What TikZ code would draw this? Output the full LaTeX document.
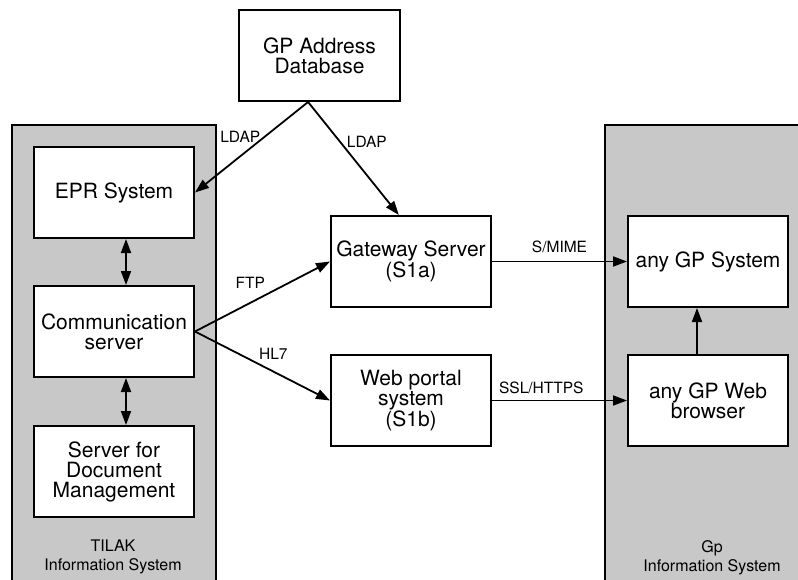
\documentclass[tikz,border=0pt]{standalone}
\usepackage{fontspec}
\setmainfont{TeX Gyre Heros}
\usetikzlibrary{
  arrows.meta,
  positioning,
  calc
}
\definecolor{PanelGray}{RGB}{200,200,200}
\tikzset{
  sysbox/.style={
    draw=black,
    fill=white,
    line width=2pt,
    minimum width=160pt,
    minimum height=91pt,
    align=center,
    inner sep=2pt,
    font=\fontsize{21}{20}\selectfont
  },
  panel/.style={draw=black,fill=PanelGray,line width=2pt},
  panellabel/.style={align=center,font=\fontsize{16}{19}\selectfont},
  proto/.style={font=\fontsize{15.5}{18}\selectfont,inner sep=0pt},
  arrow/.style={-{Triangle[length=14pt,width=10pt]},line width=1.8pt},
  dblarrow/.style={{Triangle[length=14pt,width=10pt]}-{Triangle[length=14pt,width=10pt]},line width=1.8pt}
}

\begin{document}
\begin{tikzpicture}[x=1pt,y=-1pt]
  \useasboundingbox (0,0) rectangle (798,579);
  % shaded information system panels, cut at the page edge
  \begin{scope}
    \clip (0,0) rectangle (798,579);
    \draw[panel] (12,600) |- (216,125) -- (216,600);
    \draw[panel] (605,600) |- (820,125) -- (820,600);
  \end{scope}
  \node[panellabel] (tilak) at (113,557) {TILAK\\Information System};
  \node[panellabel] (gpinfo) at (712,558) {Gp\\Information System};

  \node[sysbox, minimum width=161pt] (db) at (319.5,55.5) {GP Address\\Database};
  \node[sysbox] (epr) at (114,192.5) {EPR System};
  \node[sysbox, below=46pt of epr] (comm) {Communication\\server};
  \node[sysbox, below=47pt of comm] (docs) {Server for\\Document\\Management};
  \node[sysbox] (gateway) at (411,261.5) {Gateway Server\\(S1a)};
  \node[sysbox, below=46pt of gateway] (portal) {Web portal\\system\\(S1b)};
  \node[sysbox] (gpsys) at (708,261.5) {any GP System};
  \node[sysbox, below=46pt of gpsys] (browser) {any GP Web\\browser};

  \draw[arrow] ($(db.south west)!0.43!(db.south east)$) -- node[proto, pos=0.6, yshift=19pt]{LDAP} (epr.east);
  \draw[arrow] ($(db.south west)!0.43!(db.south east)$) -- node[proto, pos=0.35, xshift=27pt]{LDAP} ($(gateway.north west)!0.425!(gateway.north east)$);
  \draw[dblarrow] ([xshift=12pt]epr.south) -- ([xshift=12pt]comm.north);
  \draw[dblarrow] ([xshift=12pt]comm.south) -- ([xshift=12pt]docs.north);
  \draw[arrow] (comm.east) -- node[proto, pos=0.41, yshift=20pt]{FTP} (gateway.west);
  \draw[arrow] (comm.east) -- node[proto, pos=0.58, yshift=18pt]{HL7} (portal.west);
  \draw[arrow] (gateway.east) -- node[proto, pos=0.5, yshift=15pt]{S/MIME} (gpsys.west);
  \draw[arrow] (portal.east) -- node[proto, pos=0.365, yshift=13pt]{SSL/HTTPS} (browser.west);
  \draw[arrow] ([xshift=-11pt]browser.north) -- ([xshift=-11pt]gpsys.south);
\end{tikzpicture}
\end{document}
